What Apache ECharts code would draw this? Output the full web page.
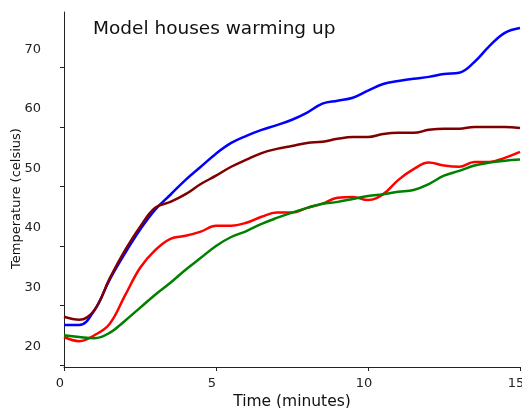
<!DOCTYPE html>
<html>
<head>
<meta charset="utf-8">
<script src="https://cdn.jsdelivr.net/npm/echarts@6/dist/echarts.min.js"></script>
<style>
html,body{margin:0;padding:0;background:#fff;}
#c{width:522px;height:408px;}
</style>
</head>
<body>
<div id="c"></div>
<script>
var times = [0,0.5,1,1.5,2,2.5,3,3.5,4,4.5,5,5.5,6,6.5,7,7.5,8,8.5,9,9.5,10,10.5,11,11.5,12,12.5,13,13.5,14,14.5,15];
var blue = [26.7,26.7,29.2,34.3,38.7,42.7,46.1,48.6,51.1,53.3,55.5,57.3,58.5,59.5,60.3,61.2,62.4,63.9,64.4,64.9,66.1,67.2,67.7,68.1,68.4,68.9,69.1,70.9,73.6,75.8,76.6];
var maroon = [28.1,27.6,29.2,34.5,39.2,43.2,46.4,47.4,48.7,50.4,51.8,53.3,54.5,55.6,56.3,56.8,57.3,57.5,58.0,58.3,58.3,58.8,59.0,59.0,59.5,59.7,59.7,60.0,60.0,60.0,59.8];
var red = [24.7,24.0,25.0,26.9,31.6,36.3,39.3,41.2,41.7,42.4,43.4,43.4,43.9,44.9,45.6,45.6,46.4,47.1,48.1,48.2,47.7,48.7,51.1,52.9,54.0,53.5,53.3,54.1,54.1,54.8,55.8];
var green = [25.0,24.7,24.5,25.4,27.4,29.6,31.8,33.8,36.0,38.0,40.0,41.5,42.5,43.7,44.7,45.6,46.4,47.1,47.4,47.9,48.4,48.7,49.1,49.4,50.4,51.8,52.6,53.5,54.0,54.3,54.5];
var yTicks = [20,30,40,50,60,70];
var xTicks = [0,5,10,15];

function pairs(ys){ return times.map(function(t,i){ return [t, ys[i]]; }); }
function ser(name, ys, color){
  return {name:name, type:'line', data:pairs(ys), smooth:0.4, showSymbol:false,
    lineStyle:{color:color, width:2.5}, itemStyle:{color:color}};
}
var font = 'DejaVu Sans';
var chart = echarts.init(document.getElementById('c'));
chart.setOption({
  animation:false,
  title:{text:'Model houses warming up', left:88, top:15,
    textStyle:{fontFamily:font, fontSize:18.5, fontWeight:'normal', color:'#111'}},
  grid:{left:64, right:2, top:12, bottom:41, containLabel:false, outerBoundsMode:'none'},
  xAxis:{type:'value', min:0, max:15, interval:5,
    name:'Time (minutes)', nameLocation:'middle', nameGap:27, nameMoveOverlap:false,
    nameTextStyle:{fontFamily:font, fontSize:15.5, color:'#111'},
    axisLine:{show:true, onZero:false, lineStyle:{color:'#222', width:1}},
    axisTick:{show:true, length:4, lineStyle:{color:'#222'}},
    axisLabel:{fontFamily:font, fontSize:13, color:'#222', margin:10,
      customValues:xTicks, formatter:function(v){return '{a|' + v + '}';},
      rich:{a:{fontFamily:font, fontSize:13, color:'#222', padding:[0,8,0,0]}}},
    splitLine:{show:false}},
  yAxis:{type:'value', min:19.66, max:79.3,
    name:'{a|Temperature (celsius)}', nameLocation:'middle', nameGap:41, nameRotate:90,
    nameMoveOverlap:false,
    nameTextStyle:{fontFamily:font, fontSize:13, color:'#111',
      rich:{a:{fontFamily:font, fontSize:13, color:'#111', padding:[0,18,0,0]}}},
    axisLine:{show:true, onZero:false, lineStyle:{color:'#222', width:1}},
    axisTick:{show:true, length:4, customValues:yTicks, lineStyle:{color:'#222'}},
    axisLabel:{fontFamily:font, fontSize:13, color:'#222', margin:23,
      customValues:yTicks, formatter:function(v){return '{a|' + v + '}';},
      rich:{a:{fontFamily:font, fontSize:13, color:'#222', padding:[0,0,36,0]}}},
    splitLine:{show:false}},
  series:[
    ser('blue', blue, '#0000ff'),
    ser('maroon', maroon, '#800000'),
    ser('red', red, '#ff0000'),
    ser('green', green, '#008000')
  ]
});
</script>
</body>
</html>
